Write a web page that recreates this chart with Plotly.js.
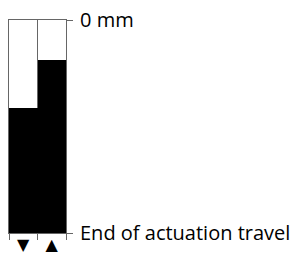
<!DOCTYPE html>
<html>
<head>
<meta charset="utf-8">
<script src="https://cdn.plot.ly/plotly-3.0.1.min.js"></script>
<style>html,body{margin:0;padding:0;background:#fff;}#chart{width:293px;height:255px;}</style>
</head>
<body>
<div id="chart"></div>
<script>
// Data
var categories = [0, 1];
var markerLabels = ['\u25BC', '\u25B2'];
var travelEnd = 4.0;            // mm, end of actuation travel
var pointPositions = [1.66, 0.76]; // mm from top (press / release points)
var yTickVals = [0, travelEnd];
var yTickText = ['0 mm', 'End of actuation travel'];

var trace = {
  type: 'bar',
  x: categories,
  base: pointPositions.map(function(){ return travelEnd; }),
  y: pointPositions.map(function(v){ return v - travelEnd; }),
  marker: {color: '#000', line: {width: 0}},
  width: 1,
  hoverinfo: 'skip'
};
var dummy = {
  type: 'scatter', x: categories, y: pointPositions, xaxis: 'x2',
  mode: 'markers', marker: {opacity: 0}, hoverinfo: 'skip', showlegend: false
};

var layout = {
  width: 293, height: 255,
  margin: {l: 9, r: 227, t: 20, b: 22},
  paper_bgcolor: '#fff', plot_bgcolor: '#fff',
  showlegend: false,
  bargap: 0,
  font: {family: 'Open Sans', size: 20, color: '#000'},
  xaxis: {
    range: [-0.5, 1.5], fixedrange: true,
    tickmode: 'array', tickvals: [-0.5, 0.5, 1.5], ticktext: ['', '', ''],
    ticks: 'outside', ticklen: 6, tickcolor: '#666', tickwidth: 1,
    showgrid: true, gridcolor: '#666', gridwidth: 1,
    showline: true, mirror: true, linecolor: '#666', linewidth: 1,
    zeroline: false
  },
  xaxis2: {
    overlaying: 'x', side: 'bottom', range: [-0.5, 1.5], fixedrange: true,
    tickmode: 'array', tickvals: categories, ticktext: markerLabels,
    ticks: '', showgrid: false, zeroline: false, showline: false,
    tickfont: {family: 'DejaVu Sans', size: 16, color: '#000'}, ticklabelstandoff: 0
  },
  yaxis: {
    range: [travelEnd, 0], side: 'right', fixedrange: true,
    tickmode: 'array', tickvals: yTickVals, ticktext: yTickText,
    ticks: 'outside', ticklen: 6, tickcolor: '#666', tickwidth: 1,
    ticklabelstandoff: 3,
    showgrid: false,
    showline: true, mirror: true, linecolor: '#666', linewidth: 1,
    zeroline: false
  }
};
Plotly.newPlot('chart', [trace, dummy], layout, {displayModeBar: false, staticPlot: true});
</script>
</body>
</html>
